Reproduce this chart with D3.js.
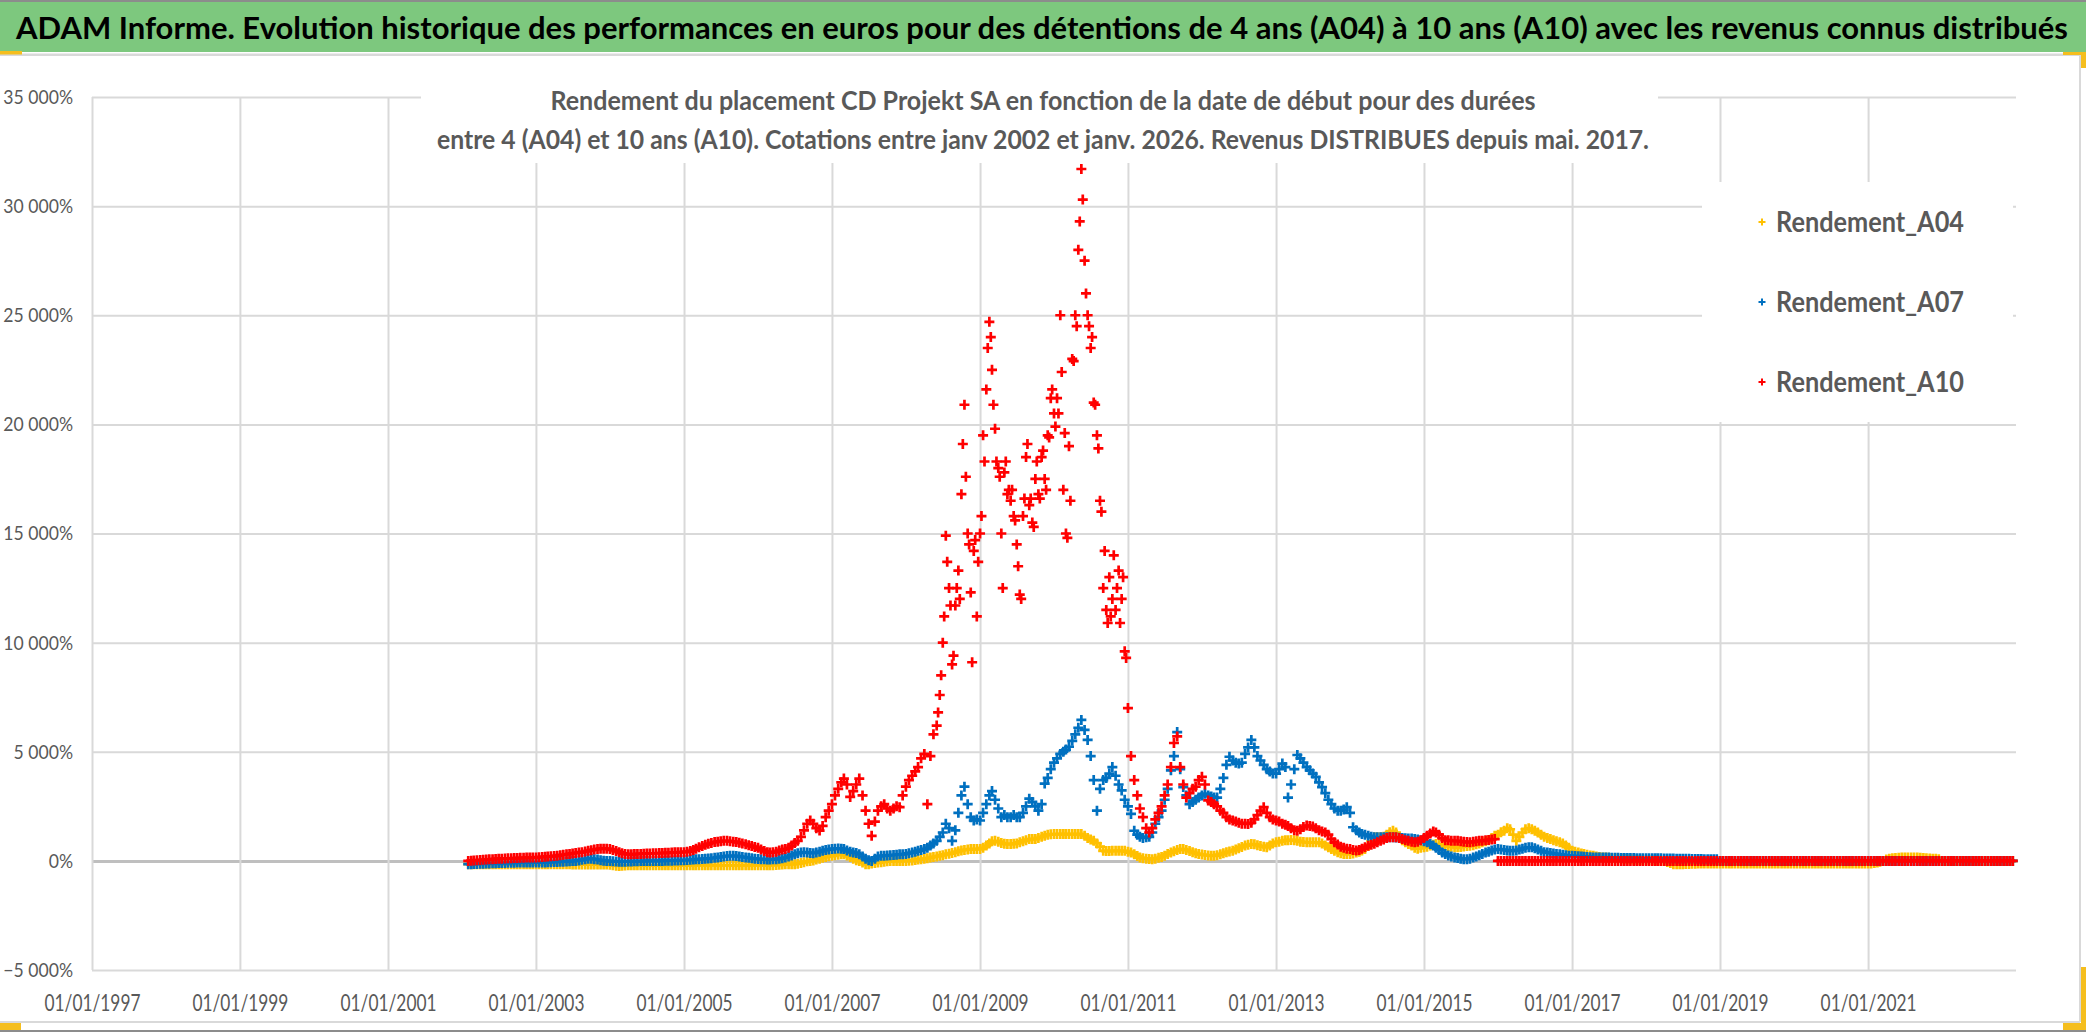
<!DOCTYPE html>
<html>
<head>
<meta charset="utf-8">
<script src="https://cdn.jsdelivr.net/npm/d3@7"></script>
<style>
  html, body { margin: 0; padding: 0; background: #fff; }
  svg { display: block; font-family: Lato, "Open Sans", sans-serif; }
</style>
</head>
<body>
<svg id="chart" width="2086" height="1032"></svg>
<script>
const title = 'ADAM Informe. Evolution historique des performances en euros pour des détentions de 4 ans (A04) à 10 ans (A10) avec les revenus connus distribués';
const subtitle = [
  'Rendement du placement CD Projekt SA en fonction de la date de début pour des durées',
  'entre 4 (A04) et 10 ans (A10). Cotations entre janv 2002 et janv. 2026. Revenus DISTRIBUES depuis mai. 2017.'
];
const seriesNames = ['Rendement_A04', 'Rendement_A07', 'Rendement_A10'];
const seriesColors = ['#FFC000', '#0070C0', '#FF0000'];
const yTicks = [-5000, 0, 5000, 10000, 15000, 20000, 25000, 30000, 35000];
const xTicks = ['01/01/1997', '01/01/1999', '01/01/2001', '01/01/2003', '01/01/2005', '01/01/2007',
  '01/01/2009', '01/01/2011', '01/01/2013', '01/01/2015', '01/01/2017', '01/01/2019', '01/01/2021'];
const xDomain = ['01/01/1997', '01/01/2023'];
// one value on the 1st and the 16th of each month, from 01/02/2002 (start date of the holding)
const firstDate = '01/02/2002';
// A10 peak is very scattered: extra values read on the 8th and 23rd, from 08/06/2008
const peakFirstDate = '08/06/2008';

// rendement in %, one row per year (2002 starts in February)
const a04 = [
  -150, -150, -150, -150, -150, -150, -150, -150, -150, -150, -150, -150, -160, -160, -160, -160, -160, -160, -160, -160, -160, -160,
  -160, -160, -160, -160, -160, -160, -160, -160, -160, -160, -160, -160, -170, -170, -170, -170, -170, -170, -170, -170, -170, -170, -170, -170,
  -180, -200, -220, -230, -220, -210, -200, -200, -200, -200, -200, -200, -200, -200, -200, -200, -200, -200, -200, -200, -200, -200, -200, -200,
  -200, -200, -200, -200, -200, -200, -200, -200, -200, -200, -200, -200, -200, -200, -200, -200, -200, -200, -200, -200, -200, -200, -200, -200,
  -200, -200, -200, -200, -200, -200, -190, -180, -170, -160, -150, -150, -150, -130, -100, -60, -20, 0, 20, 60, 100, 140, 180, 210,
  230, 260, 280, 300, 300, 250, 180, 100, 30, 0, -80, -150, -150, -120, -100, -80, -60, -40, -20, -10, 0, 0, 0, 0,
  0, 10, 20, 40, 60, 80, 100, 120, 150, 180, 200, 230, 260, 300, 330, 360, 400, 440, 480, 500, 520, 540, 540, 540,
  540, 600, 700, 800, 900, 920, 880, 820, 780, 770, 770, 780, 800, 850, 900, 950, 1000, 1000, 1000, 1050, 1100, 1150, 1200, 1220,
  1230, 1230, 1230, 1230, 1230, 1230, 1230, 1230, 1230, 1230, 1150, 1050, 980, 920, 800, 650, 460, 450, 450, 460, 460, 460, 460, 460,
  420, 380, 300, 220, 150, 120, 100, 90, 80, 100, 140, 180, 240, 310, 380, 440, 500, 540, 540, 500, 450, 400, 350, 310,
  290, 270, 250, 240, 230, 260, 300, 350, 400, 430, 460, 520, 580, 640, 700, 740, 770, 760, 720, 680, 650, 620, 700, 800,
  850, 880, 920, 940, 950, 960, 950, 920, 880, 860, 850, 850, 850, 850, 850, 800, 700, 620, 540, 460, 400, 350, 320, 310,
  320, 340, 380, 420, 480, 540, 700, 900, 1080, 1080, 1080, 1100, 1200, 1310, 1380, 1300, 1100, 950, 850, 770, 700, 600, 560, 600,
  620, 650, 700, 740, 770, 760, 740, 700, 680, 650, 620, 620, 640, 660, 680, 690, 720, 760, 800, 850, 900, 950, 1050, 1150,
  1200, 1310, 1380, 1500, 1450, 1200, 920, 1100, 1300, 1450, 1500, 1450, 1380, 1300, 1200, 1100, 1050, 1000, 950, 900, 850, 800, 700, 600,
  460, 420, 380, 340, 310, 280, 250, 230, 200, 180, 160, 150, 140, 130, 120, 110, 100, 90, 80, 70, 60, 50, 40, 30,
  30, 30, 30, 30, 20, 10, 0, -50, -100, -150, -150, -150, -150, -140, -140, -130, -130, -120, -120, -120, -120, -120, -120, -120,
  -120, -120, -120, -120, -120, -120, -120, -120, -120, -120, -120, -120, -120, -120, -120, -120, -120, -120, -120, -120, -120, -120, -120, -120,
  -120, -120, -120, -120, -120, -120, -120, -120, -120, -120, -120, -120, -120, -120, -120, -120, -120, -120, -120, -120, -120, -120, -120, -120,
  -120, -120, -100, -80, -40, 0, 60, 100, 120, 130, 140, 150, 150, 150, 150, 150, 150, 140, 130, 120, 110, 100, 100, 80,
  0, 0, 0, 0, 0, 0, 0, 0, 0, 0, 0, 0, 0, 0, 0, 0, 0, 0, 0, 0, 0, 0, 0, 0
];
const a07 = [
  -150, -150, -140, -140, -130, -130, -120, -120, -110, -110, -100, -100, -100, -90, -90, -90, -80, -80, -80, -80, -80, -80,
  -80, -80, -70, -70, -60, -60, -50, -50, -40, -40, -30, -20, -10, 0, 20, 50, 80, 100, 100, 80, 60, 30, 10, 0,
  0, -20, -30, -40, -40, -40, -30, -30, -20, -20, -10, -10, 0, 0, 0, 0, 0, 0, 10, 10, 10, 20, 20, 30,
  30, 40, 50, 60, 70, 80, 90, 100, 110, 120, 140, 160, 180, 200, 220, 230, 230, 220, 200, 180, 160, 140, 120, 100,
  90, 80, 70, 60, 60, 70, 80, 100, 120, 150, 200, 250, 300, 350, 380, 400, 380, 360, 350, 380, 420, 460, 500, 520,
  540, 560, 570, 560, 540, 480, 420, 380, 360, 300, 200, 100, 30, 0, 100, 200, 230, 240, 250, 260, 270, 280, 300, 300,
  320, 350, 380, 420, 460, 500, 540, 600, 700, 800, 920, 1100, 1300, 1700, 1500, 920, 1400, 2200, 3000, 3400, 2600, 2000, 1850, 1900,
  1850, 2200, 2600, 3000, 3200, 2800, 2400, 2000, 2100, 2000, 2000, 2100, 2000, 2000, 2200, 2500, 2850, 2700, 2500, 2300, 2600, 3540, 3800, 4200,
  4500, 4700, 4900, 5000, 5100, 5230, 5500, 5800, 6100, 6460, 6000, 5540, 4800, 3700, 2300, 3300, 3700, 3800, 4000, 4300, 3900, 3500, 3230, 2800,
  2500, 2150, 1380, 1200, 1100, 1050, 1080, 1100, 1300, 1700, 2000, 2300, 2800, 3300, 4150, 4800, 5900, 4200, 3380, 3000, 2600, 2700, 2800, 2900,
  3000, 3080, 3000, 2950, 2900, 2900, 3300, 3800, 4400, 4770, 4600, 4500, 4460, 4500, 4900, 5200, 5540, 5200, 4800, 4600, 4400, 4200, 4100, 4000,
  4000, 4200, 4460, 4300, 2900, 3500, 4200, 4850, 4700, 4500, 4300, 4150, 4000, 3850, 3600, 3380, 3100, 2800, 2600, 2400, 2300, 2300, 2350, 2460,
  2200, 1540, 1400, 1300, 1230, 1200, 1150, 1100, 1080, 1080, 1080, 1080, 1080, 1080, 1080, 1070, 1060, 1050, 1040, 1030, 1020, 1000, 980, 950,
  900, 850, 770, 700, 600, 500, 380, 310, 250, 200, 160, 130, 100, 80, 80, 100, 150, 200, 260, 320, 380, 420, 480, 520,
  540, 520, 500, 480, 460, 460, 480, 520, 560, 600, 620, 620, 580, 520, 460, 400, 380, 360, 340, 320, 300, 280, 260, 240,
  230, 220, 210, 200, 190, 180, 170, 160, 160, 150, 150, 150, 150, 140, 140, 140, 130, 130, 130, 130, 130, 120, 120, 120,
  120, 120, 120, 120, 120, 120, 110, 110, 110, 110, 100, 100, 100, 100, 100, 90, 90, 90, 90, 80, 80, 80, 80, 80,
  0, 0, 0, 0, 0, 0, 0, 0, 0, 0, 0, 0, 0, 0, 0, 0, 0, 0, 0, 0, 0, 0, 0, 0,
  0, 0, 0, 0, 0, 0, 0, 0, 0, 0, 0, 0, 0, 0, 0, 0, 0, 0, 0, 0, 0, 0, 0, 0,
  0, 0, 0, 0, 0, 0, 0, 0, 0, 0, 0, 0, 0, 0, 0, 0, 0, 0, 0, 0, 0, 0, 0, 0,
  0, 0, 0, 0, 0, 0, 0, 0, 0, 0, 0, 0, 0, 0, 0, 0, 0, 0, 0, 0, 0, 0, 0, 0
];
const a10 = [
  0, 10, 20, 30, 40, 50, 60, 70, 80, 90, 100, 100, 110, 120, 120, 130, 130, 140, 140, 150, 150, 160,
  160, 170, 180, 190, 200, 210, 220, 240, 260, 280, 300, 320, 340, 360, 380, 400, 430, 460, 490, 520, 540, 560, 560, 560,
  540, 500, 450, 400, 350, 320, 300, 300, 310, 320, 320, 330, 340, 340, 350, 350, 360, 360, 370, 370, 380, 390, 390, 400,
  400, 420, 450, 500, 560, 620, 680, 740, 780, 820, 860, 880, 900, 920, 920, 900, 880, 860, 830, 800, 760, 720, 680, 640,
  600, 520, 450, 400, 380, 390, 420, 470, 520, 540, 600, 700, 820, 920, 1100, 1400, 1700, 1850, 1700, 1500, 1390, 1600, 2000, 2300,
  2600, 3000, 3300, 3600, 3770, 3500, 2930, 3200, 3500, 3770, 3000, 2300, 1700, 1150, 1800, 2300, 2500, 2600, 2400, 2300, 2400, 2500, 2460, 3000,
  3400, 3700, 3900, 4100, 4300, 4700, 4900, 2600, 4800, 5800, 6200, 7600, 10000, 14900, 12500, 9000, 11700, 13300, 16800, 20900, 15000, 12300, 14200, 11200,
  15000, 19500, 21600, 24700, 22500, 19800, 18000, 15000, 17800, 16800, 16500, 15800, 14500, 12200, 15800, 18500, 16300, 15500, 17500, 16800, 18500, 17500, 19500, 21200,
  20500, 21200, 25000, 17000, 15000, 19000, 23000, 25000, 28000, 31700, 27500, 25000, 23500, 21000, 19500, 16500, 12500, 11500, 13000, 12000, 11500, 13300, 12000, 9600,
  7000, 4800, 3700, 3000, 2400, 2000, 1500, 1300, 1500, 1900, 2200, 2500, 3000, 3500, 4300, 5400, 5700, 4300, 3500, 2900, 3100, 3300, 3400, 3700,
  3850, 3500, 2770, 2700, 2600, 2500, 2300, 2200, 2000, 1900, 1850, 1800, 1750, 1700, 1700, 1690, 1750, 1900, 2100, 2300, 2460, 2200, 2000, 1900,
  1850, 1800, 1700, 1650, 1600, 1500, 1400, 1380, 1450, 1550, 1620, 1600, 1580, 1500, 1400, 1350, 1300, 1200, 1000, 850, 750, 650, 600, 560,
  540, 500, 470, 500, 560, 620, 690, 740, 780, 850, 920, 980, 1050, 1080, 1080, 1080, 1050, 1000, 950, 920, 880, 850, 880, 950,
  1050, 1150, 1250, 1350, 1300, 1200, 1050, 950, 950, 920, 920, 920, 900, 880, 860, 850, 880, 900, 920, 920, 940, 960, 980, 1000,
  0, 0, 0, 0, 0, 0, 0, 0, 0, 0, 0, 0, 0, 0, 0, 0, 0, 0, 0, 0, 0, 0, 0, 0,
  0, 0, 0, 0, 0, 0, 0, 0, 0, 0, 0, 0, 0, 0, 0, 0, 0, 0, 0, 0, 0, 0, 0, 0,
  0, 0, 0, 0, 0, 0, 0, 0, 0, 0, 0, 0, 0, 0, 0, 0, 0, 0, 0, 0, 0, 0, 0, 0,
  0, 0, 0, 0, 0, 0, 0, 0, 0, 0, 0, 0, 0, 0, 0, 0, 0, 0, 0, 0, 0, 0, 0, 0,
  0, 0, 0, 0, 0, 0, 0, 0, 0, 0, 0, 0, 0, 0, 0, 0, 0, 0, 0, 0, 0, 0, 0, 0,
  0, 0, 0, 0, 0, 0, 0, 0, 0, 0, 0, 0, 0, 0, 0, 0, 0, 0, 0, 0, 0, 0, 0, 0,
  0, 0, 0, 0, 0, 0, 0, 0, 0, 0, 0, 0, 0, 0, 0, 0, 0, 0, 0, 0, 0, 0, 0, 0
];
// 8th / 23rd values of A10, June 2008 to December 2010
const a10Peak = [
  6800, 8500, 11200, 13700, 11700, 9400, 12500, 12000, 19100, 17600, 14500, 9100, 14700, 13700,
  15800, 18300, 23500, 24000, 20900, 18300, 17600, 12500, 18300, 17000, 17000, 15600,
  13500, 12000, 16600, 19100, 16600, 15300, 18300, 16600, 18800, 17000, 19400, 21600,
  19900, 20500, 22400, 19600, 14800, 16500, 22900, 24500, 29300, 30300, 26000, 24500,
  24000, 20900, 18900, 16000, 14200, 10900, 11200, 14000, 12500, 10900, 13000, 9300
];

const parseDate = d3.timeParse('%d/%m/%Y');
const start = parseDate(firstDate);
const peakStart = parseDate(peakFirstDate);
const dateAt = (first, days) => i =>
  new Date(first.getFullYear(), first.getMonth() + Math.floor(i / 2), days[i % 2]);

const plot = { left: 92, right: 2016, top: 97, bottom: 970 };
const svg = d3.select('#chart');

const x = d3.scaleTime()
  .domain(xDomain.map(parseDate))
  .range([plot.left, plot.right]);
const y = d3.scaleLinear()
  .domain([yTicks[0], yTicks[yTicks.length - 1]])
  .range([plot.bottom, plot.top]);

const frLocale = d3.formatLocale({ decimal: ',', thousands: ' ', grouping: [3], currency: ['', ' €'] });
const fmtPct = v => frLocale.format(',')(v) + '%';

const series = [
  a04.map((v, i) => [dateAt(start, [1, 16])(i), v]),
  a07.map((v, i) => [dateAt(start, [1, 16])(i), v]),
  a10.map((v, i) => [dateAt(start, [1, 16])(i), v])
    .concat(a10Peak.map((v, i) => [dateAt(peakStart, [8, 23])(i), v]))
];

// frame of the sheet, title cell and selection handles
svg.append('rect').attr('width', 2086).attr('height', 1032).attr('fill', '#fff');
svg.append('rect').attr('x', 0).attr('y', 0).attr('width', 2086).attr('height', 2).attr('fill', '#8c8c8c');
svg.append('rect').attr('x', 0).attr('y', 2).attr('width', 2086).attr('height', 50).attr('fill', '#7DC87E');
svg.append('rect').attr('x', 0).attr('y', 53.5).attr('width', 2080).attr('height', 2.5).attr('fill', '#D9D9D9');
svg.append('line').attr('x1', 2080).attr('x2', 2080).attr('y1', 55).attr('y2', 1022)
  .attr('stroke', '#D9D9D9').attr('stroke-width', 2);
svg.append('line').attr('x1', 0).attr('x2', 2080).attr('y1', 1022).attr('y2', 1022)
  .attr('stroke', '#D9D9D9').attr('stroke-width', 2);
svg.append('rect').attr('x', 0).attr('y', 1030).attr('width', 2086).attr('height', 2).attr('fill', '#8c8c8c');
[[0, 51, 22, 3.5], [2063, 52, 23, 3], [2081, 52, 5, 16], [0, 1023, 21, 7], [2063, 1023, 18, 7], [2081, 967, 5, 63]]
  .forEach(r => svg.append('rect').attr('x', r[0]).attr('y', r[1]).attr('width', r[2]).attr('height', r[3]).attr('fill', '#F5BE1E'));

svg.append('text')
  .attr('x', 16).attr('y', 39)
  .attr('font-size', 30).attr('font-weight', 'bold').attr('fill', '#000')
  .attr('textLength', 2052).attr('lengthAdjust', 'spacingAndGlyphs')
  .text(title);

// axes with full-length ticks as gridlines
const yAxis = svg.append('g')
  .attr('class', 'axis y-axis')
  .attr('transform', 'translate(' + plot.left + ',0)')
  .call(d3.axisLeft(y).tickValues(yTicks).tickSize(-(plot.right - plot.left)).tickPadding(19).tickFormat(fmtPct));
const xAxis = svg.append('g')
  .attr('class', 'axis x-axis')
  .attr('transform', 'translate(0,' + plot.bottom + ')')
  .call(d3.axisBottom(x).tickValues(xTicks.map(parseDate)).tickSize(-(plot.bottom - plot.top)).tickPadding(25)
    .tickFormat(d3.timeFormat('%d/%m/%Y')));
svg.selectAll('.axis .domain').remove();
svg.selectAll('.axis line').attr('stroke', '#D9D9D9').attr('stroke-width', 2);
yAxis.selectAll('.tick').filter(d => d === 0).select('line').attr('stroke', '#BFBFBF').attr('stroke-width', 3);
yAxis.selectAll('.tick').filter(d => d === 0).raise();
svg.selectAll('.axis text')
  .attr('fill', '#595959').attr('font-family', 'Lato, "Open Sans", sans-serif');
yAxis.selectAll('text').attr('font-size', 20)
  .each(function () {
    d3.select(this).attr('textLength', this.getComputedTextLength() * 0.88).attr('lengthAdjust', 'spacingAndGlyphs');
  });
xAxis.selectAll('text').attr('font-size', 23)
  .attr('textLength', 96).attr('lengthAdjust', 'spacingAndGlyphs');

// white boxes of the chart title and of the legend hide the gridlines
svg.append('rect').attr('x', 421).attr('y', 57).attr('width', 1237).attr('height', 106).attr('fill', '#fff');
svg.append('rect').attr('x', 1702).attr('y', 182).attr('width', 311).attr('height', 240).attr('fill', '#fff');

const subLengths = [985, 1212];
svg.append('g').selectAll('text')
  .data(subtitle)
  .enter()
  .append('text')
  .attr('x', 1043)
  .attr('y', (d, i) => 110 + i * 39)
  .attr('text-anchor', 'middle')
  .attr('font-size', 26).attr('font-weight', 'bold').attr('fill', '#595959')
  .attr('textLength', (d, i) => subLengths[i]).attr('lengthAdjust', 'spacingAndGlyphs')
  .text(d => d);

// scatter of "+" markers, A04 underneath, A10 on top
const plus = 'M-5,0H5M0,-5V5';
svg.append('g')
  .attr('class', 'series')
  .selectAll('g')
  .data(series)
  .enter()
  .append('g')
  .attr('stroke', (d, i) => seriesColors[i])
  .attr('stroke-width', 2.7)
  .attr('fill', 'none')
  .selectAll('path')
  .data(d => d)
  .enter()
  .append('path')
  .attr('d', plus)
  .attr('transform', d => 'translate(' + x(d[0]) + ',' + y(d[1]) + ')');

// legend
const legend = svg.append('g')
  .attr('class', 'legend')
  .selectAll('g')
  .data(seriesNames)
  .enter()
  .append('g')
  .attr('transform', (d, i) => 'translate(1762,' + (222 + i * 80) + ')');
legend.append('path')
  .attr('d', 'M-3.5,0H3.5M0,-3.5V3.5')
  .attr('stroke', (d, i) => seriesColors[i])
  .attr('stroke-width', 2);
legend.append('text')
  .attr('x', 14).attr('y', 10)
  .attr('font-size', 28).attr('font-weight', 'bold').attr('fill', '#595959')
  .attr('textLength', 188).attr('lengthAdjust', 'spacingAndGlyphs')
  .text(d => d);
</script>
</body>
</html>
